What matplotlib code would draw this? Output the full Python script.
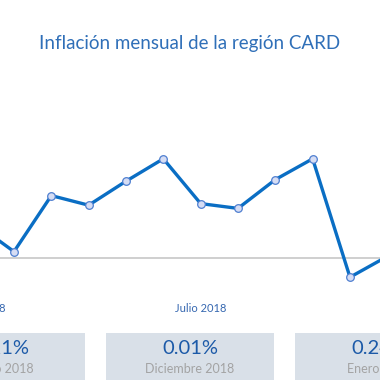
import numpy as np
import matplotlib.pyplot as plt
from matplotlib.patches import Rectangle
plt.rcParams['font.family'] = ['Lato', 'DejaVu Sans']

# datos: inflación mensual (%)
meses = ['Enero 2018', 'Febrero 2018', 'Marzo 2018', 'Abril 2018', 'Mayo 2018', 'Junio 2018',
         'Julio 2018', 'Agosto 2018', 'Septiembre 2018', 'Octubre 2018', 'Noviembre 2018',
         'Diciembre 2018', 'Enero 2019']
inflacion = [0.21, 0.04, 0.39, 0.33, 0.48, 0.62, 0.34, 0.31, 0.49, 0.62, -0.12, 0.01, 0.24]
tick_labels = ['Enero 2018', 'Julio 2018', 'Enero 2019']
tick_pos = [0, 6, 12]

box_values = ['0.21%', '0.01%', '0.24%']
box_labels = ['Enero 2018', 'Diciembre 2018', 'Enero 2019']

W, H = 380, 380
fig = plt.figure(figsize=(3.8, 3.8), dpi=100)
fig.patch.set_facecolor('white')

# ---------- eje principal (sale del lienzo por los lados, la imagen es un recorte) ----------
ax_l, ax_r = -30, 410   # pixeles
step, x0 = 37.33, -23.33
ax = fig.add_axes([ax_l / W, 90 / H, (ax_r - ax_l) / W, 160 / H])
x = np.arange(len(inflacion))
ax.axhline(0, color='#cfcfcf', lw=1.4, zorder=1)
ax.plot(x, inflacion, color='#0a6ec4', lw=2.4, zorder=2,
        marker='o', ms=5.5, mfc='#d6ddf4', mec='#4f7fd0', mew=0.9)
for s in ax.spines.values():
    s.set_visible(False)
ax.set_yticks([])
ax.set_xticks(tick_pos)
ax.set_xticklabels(tick_labels, fontsize=8, color='#3567b0')
ax.tick_params(axis='x', length=0, pad=9)
# limites despues de los ticks (set_xticks amplia la vista)
ax.set_xlim((ax_l - x0) / step, (ax_r - x0) / step)
ax.set_ylim(-0.2, 0.8)

# ---------- titulo ----------
fig.text(0.5, 1 - 43 / H, 'Inflación mensual de la región CARD', ha='center', va='center',
         fontsize=13.5, color='#2f6fb8')

# ---------- cajas ----------
box_x = [-83, 106, 295]
for bx, val, lab in zip(box_x, box_values, box_labels):
    fig.patches.append(Rectangle((bx / W, 0), 168 / W, 47 / H, transform=fig.transFigure,
                                 facecolor='#d9e0e8', edgecolor='none'))
    cx = (bx + 84) / W
    fig.text(cx, 1 - 348 / H, val, ha='center', va='center', fontsize=14.5, color='#1c5aa8')
    fig.text(cx, 1 - 369 / H, lab, ha='center', va='center', fontsize=9, color='#a3a3a3')

plt.savefig('out.png', dpi=100)
